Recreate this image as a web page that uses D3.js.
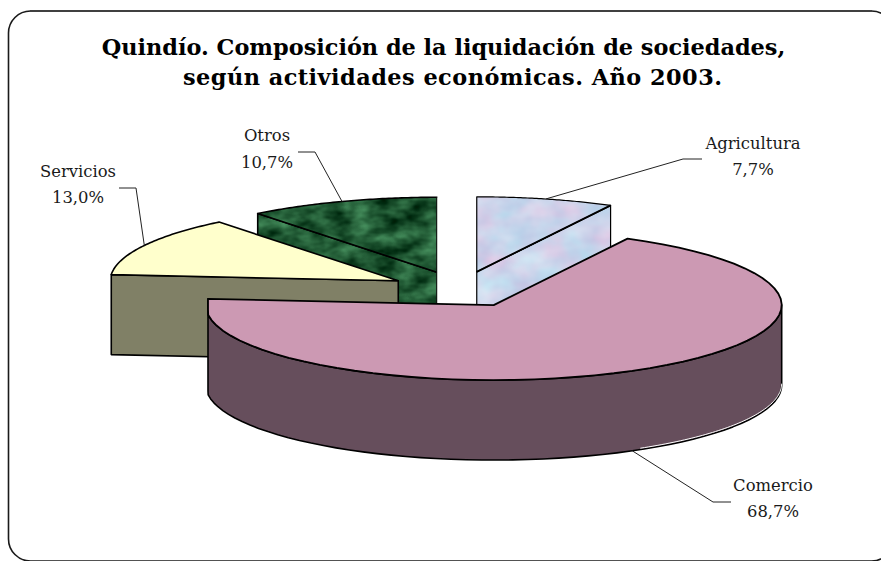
<!DOCTYPE html>
<html><head><meta charset="utf-8">
<style>html,body{margin:0;padding:0;background:#fff}svg{display:block}</style>
<script src="https://cdn.jsdelivr.net/npm/d3@7/dist/d3.min.js"></script>
</head><body><svg id="c" width="881" height="561"></svg>
<script>
const categories = ["Agricultura","Comercio","Servicios","Otros"];
const values = [7.7,68.7,13.0,10.7];
const percentLabels = ["7,7%","68,7%","13,0%","10,7%"];
const titleLines = ["Quindío. Composición de la liquidación de sociedades,","según actividades económicas. Año 2003."];

const W=881,H=561;
const cx=460,cy=289.3,rx=288,ry=75,depth=80,explodeX=70,explodeY=18,leftClamp=208;
const labelFont="'DejaVu Serif',serif";

const svg=d3.select("#c");
const defs=svg.append("defs");
function texture(id,freq,seed,m){
  const f=defs.append("filter").attr("id",id).attr("x",0).attr("y",0).attr("width",1).attr("height",1)
    .attr("color-interpolation-filters","sRGB");
  f.append("feTurbulence").attr("type","fractalNoise").attr("baseFrequency",freq).attr("numOctaves",3).attr("seed",seed).attr("result","n");
  f.append("feColorMatrix").attr("in","n").attr("type","matrix").attr("values",m).attr("result","c");
  f.append("feComposite").attr("in","c").attr("in2","SourceAlpha").attr("operator","in");
}
texture("green","0.04 0.07",4,"0.45 0 0 0 -0.10  0.65 0 0 0 0.02  0.5 0 0 0 -0.05  0 0 0 0 1");
texture("blue","0.03 0.04",9,"0.25 0 0 0 0.67  0 0.2 0 0 0.73  0 0.1 0 0 0.87  0 0 0 0 1");

svg.append("rect").attr("x",8.5).attr("y",11).attr("width",885).attr("height",550).attr("rx",22).attr("ry",22)
  .attr("fill","#fff").attr("stroke","#1a1a1a").attr("stroke-width",1.6);
svg.append("line").attr("x1",30).attr("x2",872).attr("y1",11).attr("y2",11).attr("stroke","#404040").attr("stroke-width",2);

const title=svg.append("g").attr("font-family",labelFont).attr("font-weight","bold").attr("font-size",22.4).attr("fill","#000").attr("text-anchor","middle");
title.append("text").attr("x",443.5).attr("y",55).text(titleLines[0]);
title.append("text").attr("x",452.5).attr("y",85).attr("textLength",539).attr("lengthAdjust","spacing").text(titleLines[1]);

const pie=d3.pie().sort(null).value(d=>d);
const arcs=pie(values);
const slices=arcs.map((a,i)=>{
  const mid=(a.startAngle+a.endAngle)/2;
  return {i,start:a.startAngle,end:a.endAngle,mid,
    ax:cx+explodeX*Math.sin(mid),ay:cy-explodeY*Math.cos(mid)};
});
const line=d3.line();
const rim=(s,a,dy=0)=>[s.ax+rx*Math.sin(a),s.ay-ry*Math.cos(a)+dy];
const arcPts=(s,a0,a1,dy=0)=>d3.range(0,61).map(k=>rim(s,a0+(a1-a0)*k/60,dy));
const g=svg.append("g");

function face(pts,fill,filter,sw=1.6){
  const d=line(pts)+"Z";
  if(filter) g.append("path").attr("d",d).attr("fill","#000").attr("filter",`url(#${filter})`);
  g.append("path").attr("d",d).attr("fill",filter?"none":fill).attr("stroke","#000").attr("stroke-width",sw).attr("stroke-linejoin","round");
}
const [agri,com,serv,otros]=slices;

// Otros
{
  const a=[otros.ax,otros.ay], e=rim(otros,otros.start);
  face([a,e,[e[0],e[1]+depth],[a[0],a[1]+depth]],null,"green");
  face([a,...arcPts(otros,otros.start,otros.end)],null,"green");
  g.append("line").attr("x1",a[0]+.5).attr("x2",a[0]+.5).attr("y1",a[1]-ry).attr("y2",a[1]+depth).attr("stroke","#cfd8d0").attr("stroke-width",1);
}
// Agricultura
{
  const a=[agri.ax,agri.ay], e=rim(agri,agri.end);
  face([a,e,[e[0],e[1]+depth],[a[0],a[1]+depth]],null,"blue",1.2);
  face([a,...arcPts(agri,agri.start,agri.end)],null,"blue",1.2);
  g.append("line").attr("x1",a[0]).attr("x2",e[0]).attr("y1",a[1]).attr("y2",e[1]).attr("stroke","#000").attr("stroke-width",1.8);
}
// Servicios
{
  const a=[serv.ax,serv.ay], s=rim(serv,serv.start);
  face([s,a,[a[0],a[1]+depth],[s[0],s[1]+depth]],"#808066");
  face([a,...arcPts(serv,serv.start,serv.end)],"#FFFFCC");
}
// Comercio
{
  const clampX=pts=>pts.map(p=>[Math.max(p[0],leftClamp),p[1]]);
  const a0=Math.PI/2,a1=com.end;
  const wall=clampX([...arcPts(com,a0,a1),...arcPts(com,a1,a0,depth)]);
  face(wall,"#664E5C");
  g.append("path").attr("d",line(arcPts(com,a0,a0+Math.PI*0.33,depth-1.4))).attr("fill","none").attr("stroke","#fff").attr("stroke-width",1);
  face(clampX([[com.ax,com.ay],...arcPts(com,com.start,com.end)]),"#CC99B3",null,1.8);
}

// Leaders and labels
const leaderBend=[[683,159,702],[713,502,731],[136,188,119],[315,152,298]];
const labelPlace=[[753,149,175],[773,491,517],[78,177,203],[267,141,168]];
const lab=svg.append("g").attr("font-family",labelFont).attr("font-size",16.4).attr("fill","#1a1a1a").attr("text-anchor","middle");
slices.forEach((s,i)=>{
  const dy=i===1?depth:0;
  const p=rim(s,s.mid,dy), b=leaderBend[i];
  svg.append("path").attr("d",line([p,[b[0],b[1]],[b[2],b[1]]])).attr("fill","none").attr("stroke","#222").attr("stroke-width",1);
  const q=labelPlace[i];
  lab.append("text").attr("x",q[0]).attr("y",q[1]).text(categories[i]);
  lab.append("text").attr("x",q[0]).attr("y",q[2]).text(percentLabels[i]);
});
</script></body></html>
